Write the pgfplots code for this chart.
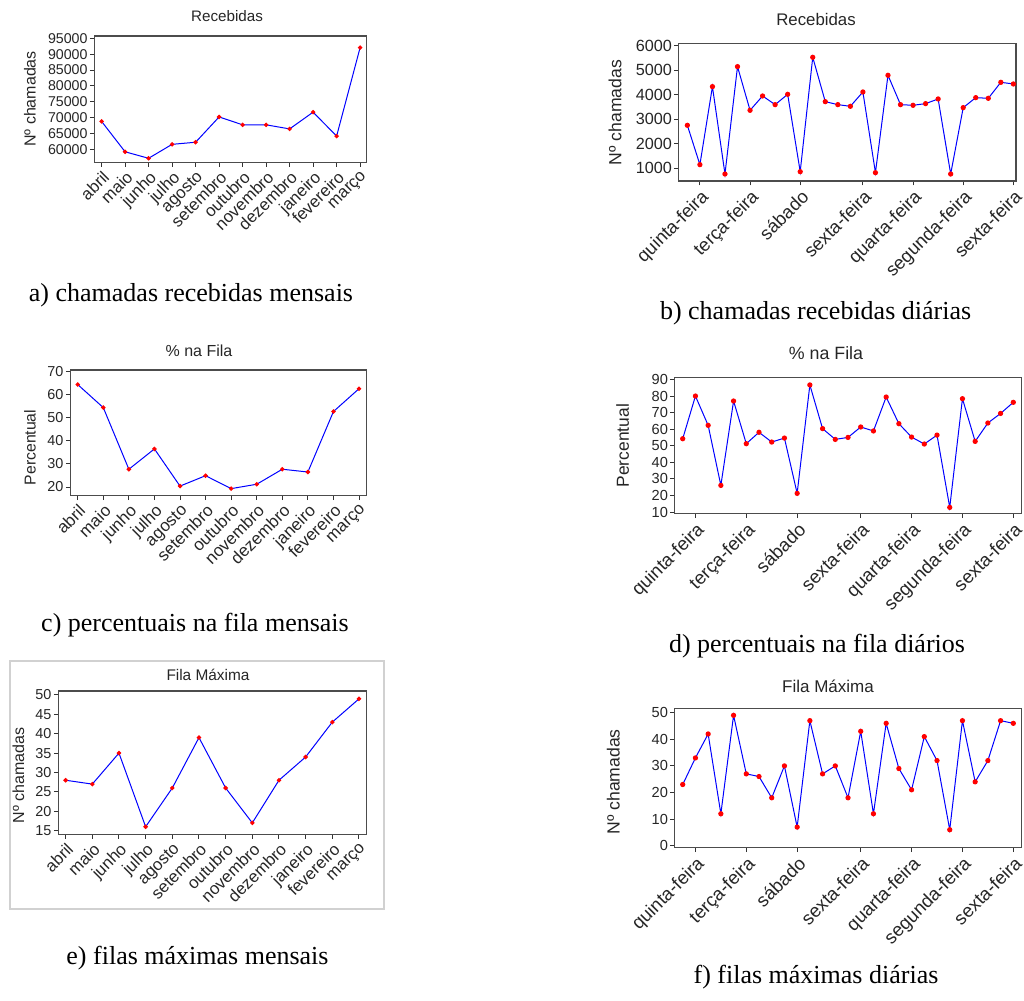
\documentclass[border=0pt]{standalone}
\usepackage{fontspec}
\setmainfont{Liberation Serif}
\newfontfamily\chartfont{Liberation Sans}
\usepackage{pgfplots}
\pgfplotsset{compat=1.18}

\pgfplotstableread{
x y
0 68830
1 59250
2 57200
3 61600
4 62260
5 70230
6 67750
7 67750
8 66460
9 71740
10 64200
11 92100
}\tabA
\pgfplotstableread{
x y
0 2753
1 1150
2 4329
3 769
4 5144
5 3364
6 3948
7 3595
8 4016
9 864
10 5524
11 3717
12 3595
13 3527
14 4111
15 823
16 4791
17 3595
18 3568
19 3636
20 3826
21 769
22 3473
23 3880
24 3853
25 4505
26 4437
}\tabB
\pgfplotstableread{
x y
0 64.4
1 54.4
2 27.7
3 36.5
4 20.4
5 24.9
6 19.3
7 21.2
8 27.7
9 26.5
10 52.7
11 62.6
}\tabC
\pgfplotstableread{
x y
0 54.3
1 80.1
2 62.4
3 26.1
4 77.1
5 51.3
6 58.2
7 52.3
8 54.7
9 21.3
10 86.8
11 60.4
12 53.9
13 55.1
14 61.4
15 59.0
16 79.5
17 63.4
18 55.3
19 51.1
20 56.5
21 12.8
22 78.5
23 52.7
24 63.8
25 69.6
26 76.3
}\tabD
\pgfplotstableread{
x y
0 28
1 27
2 35
3 16
4 26
5 39
6 26
7 17
8 28
9 34
10 43
11 49
}\tabE
\pgfplotstableread{
x y
0 23
1 33
2 42
3 12
4 49
5 27
6 26
7 18
8 30
9 7
10 47
11 27
12 30
13 18
14 43
15 12
16 46
17 29
18 21
19 41
20 32
21 6
22 47
23 24
24 32
25 47
26 46
}\tabF

\pgfplotsset{
  mstyle/.style={
    scale only axis, anchor=south west,
    axis line style={black!70, line width=0.6pt},
    tick align=outside, xtick pos=bottom, ytick pos=left,
    major tick length=2.2pt,
    tick style={black!80, line width=0.5pt},
    /pgf/number format/assume math mode=true,
    /pgf/number format/set thousands separator={},
    scaled y ticks=false,
    yticklabel style={text=black!85, inner sep=1pt},
    xticklabel style={text=black!85, rotate=45, anchor=north east, inner sep=1pt},
  },
  monthly/.style={mstyle,
    xtick={0,...,11},
    xticklabels={abril,maio,junho,julho,agosto,setembro,outubro,novembro,dezembro,janeiro,fevereiro,março},
  },
  daily/.style={mstyle,
    xtick={1,5,9,14,18,22,26},
    xticklabels={quinta-feira,terça-feira,sábado,sexta-feira,quarta-feira,segunda-feira,sexta-feira},
  },
  ser/.style={blue, line width=0.5pt, mark=*, mark size=#1, mark options={draw=red, fill=red}},
}

\begin{document}
\begin{tikzpicture}
\useasboundingbox (0,0) rectangle (512pt,500.5pt);
\chartfont
% ---------- a
\begin{axis}[monthly, at={(47.15pt,419.35pt)}, width=136.2pt, height=63.15pt,
  xmin=-0.31, xmax=11.28, ymin=55940, ymax=95750,
  ytick={60000,65000,...,95000},
  yticklabel style={font=\chartfont\fontsize{7.1}{8}\selectfont},
  xticklabel style={font=\chartfont\fontsize{8.4}{9}\selectfont}]
\addplot[ser=0.85pt] table[x=x,y=y]{\tabA};
\end{axis}
% ---------- b
\begin{axis}[daily, at={(339.35pt,410pt)}, width=168.65pt, height=68.85pt,
  xmin=-0.69, xmax=26.21, ymin=484, ymax=6095,
  ytick={1000,2000,...,6000},
  yticklabel style={font=\chartfont\fontsize{8.1}{9}\selectfont},
  xticklabel style={font=\chartfont\fontsize{9.2}{10}\selectfont}]
\addplot[ser=1.05pt] table[x=x,y=y]{\tabB};
\end{axis}
% ---------- c
\begin{axis}[monthly, at={(35.15pt,252.65pt)}, width=148.2pt, height=62.85pt,
  xmin=-0.29, xmax=11.3, ymin=16.24, ymax=70.7,
  ytick={20,30,...,70},
  yticklabel style={font=\chartfont\fontsize{7.2}{8}\selectfont},
  xticklabel style={font=\chartfont\fontsize{8.5}{9}\selectfont}]
\addplot[ser=0.85pt] table[x=x,y=y]{\tabC};
\end{axis}
% ---------- d
\begin{axis}[daily, at={(337.35pt,243.65pt)}, width=173.5pt, height=68pt,
  xmin=-0.63, xmax=26.66, ymin=9, ymax=91.2,
  ytick={10,20,...,90},
  yticklabel style={font=\chartfont\fontsize{7.3}{8}\selectfont},
  xticklabel style={font=\chartfont\fontsize{9.3}{10}\selectfont}]
\addplot[ser=1.05pt] table[x=x,y=y]{\tabD};
\end{axis}
% ---------- e
\draw[black!18, line width=1pt] (5pt,46pt) rectangle (192pt,170.15pt);
\begin{axis}[monthly, at={(29.15pt,83.35pt)}, width=154.2pt, height=71.65pt,
  xmin=-0.275, xmax=11.29, ymin=14.05, ymax=51.03,
  ytick={15,20,...,50},
  yticklabel style={font=\chartfont\fontsize{7.2}{8}\selectfont},
  xticklabel style={font=\chartfont\fontsize{8.4}{9}\selectfont}]
\addplot[ser=0.85pt] table[x=x,y=y]{\tabE};
\end{axis}
% ---------- f
\begin{axis}[daily, at={(337.35pt,76.65pt)}, width=173.5pt, height=69.5pt,
  xmin=-0.63, xmax=26.66, ymin=-0.75, ymax=51.5,
  ytick={0,10,...,50},
  yticklabel style={font=\chartfont\fontsize{7.3}{8}\selectfont},
  xticklabel style={font=\chartfont\fontsize{9.3}{10}\selectfont}]
\addplot[ser=1.05pt] table[x=x,y=y]{\tabF};
\end{axis}

% titles
\begin{scope}[every node/.style={text=black!85, inner sep=0pt}]
\node[font=\chartfont\fontsize{7.6}{9}\selectfont] at (113.5pt,492.5pt) {Recebidas};
\node[font=\chartfont\fontsize{8.4}{10}\selectfont] at (408pt,490.85pt) {Recebidas};
\node[font=\chartfont\fontsize{8}{10}\selectfont] at (99.5pt,325.15pt) {\% na Fila};
\node[font=\chartfont\fontsize{8.9}{10}\selectfont] at (413pt,324.15pt) {\% na Fila};
\node[font=\chartfont\fontsize{7.7}{9}\selectfont] at (104pt,163pt) {Fila Máxima};
\node[font=\chartfont\fontsize{8.5}{10}\selectfont] at (414pt,157.5pt) {Fila Máxima};
% y labels
\node[rotate=90, font=\chartfont\fontsize{8}{10}\selectfont] at (15pt,451pt) {Nº chamadas};
\node[rotate=90, font=\chartfont\fontsize{8.8}{10}\selectfont] at (307.5pt,444.25pt) {Nº chamadas};
\node[rotate=90, font=\chartfont\fontsize{7.9}{10}\selectfont] at (15pt,276.75pt) {Percentual};
\node[rotate=90, font=\chartfont\fontsize{8.7}{10}\selectfont] at (311.35pt,277.65pt) {Percentual};
\node[rotate=90, font=\chartfont\fontsize{8}{10}\selectfont] at (9.15pt,112.75pt) {Nº chamadas};
\node[rotate=90, font=\chartfont\fontsize{8.8}{10}\selectfont] at (306.65pt,109.6pt) {Nº chamadas};
\end{scope}
% captions
\begin{scope}[every node/.style={anchor=base, inner sep=0pt, font=\rmfamily\fontsize{13}{15}\selectfont}]
\node at (95.5pt,349.65pt) {a) chamadas recebidas mensais};
\node at (407.8pt,340.5pt) {b) chamadas recebidas diárias};
\node at (97.5pt,184.65pt) {c) percentuais na fila mensais};
\node at (408.5pt,174pt) {d) percentuais na fila diários};
\node at (98.75pt,18pt) {e) filas máximas mensais};
\node at (408pt,8.85pt) {f) filas máximas diárias};
\end{scope}
\end{tikzpicture}
\end{document}
